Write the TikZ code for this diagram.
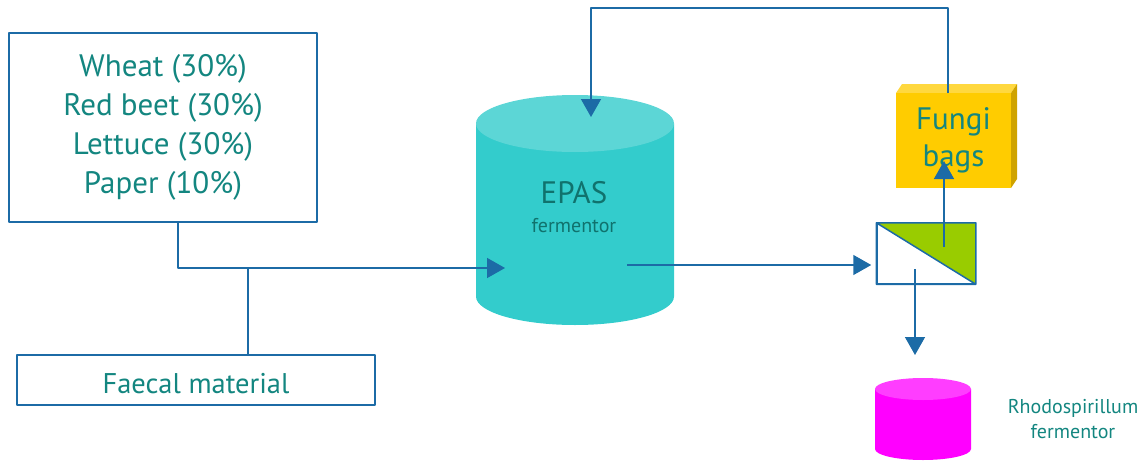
\documentclass[tikz,border=0pt]{standalone}
\usepackage{fontspec}
\setmainfont{PT Sans}
\usetikzlibrary{arrows.meta}
\definecolor{flowline}{HTML}{1C6BA6}
\definecolor{txtteal}{HTML}{138680}
\definecolor{epasbody}{HTML}{33CCCC}
\definecolor{epastop}{HTML}{5CD6D6}
\definecolor{fungifront}{HTML}{FFCC00}
\definecolor{fungitop}{HTML}{FFD83F}
\definecolor{fungiside}{HTML}{CFA300}
\definecolor{membrane}{HTML}{99CC00}
\definecolor{rhodobody}{HTML}{FF00FF}
\definecolor{rhodotop}{HTML}{FF3DFF}
\tikzset{
  feedbox/.style={draw=flowline, line width=1.3pt, fill=white, inner sep=0pt},
  flow/.style={draw=flowline, line width=1.5pt},
  lbl/.style={text=txtteal, align=center, inner sep=0pt},
}
\begin{document}
\begin{tikzpicture}[x=1pt, y=-1pt, >={Triangle[length=18pt,width=20pt]}, line join=round]
\useasboundingbox (0,0) rectangle (1144,461);
\def\epasrx{99pt} \def\epasry{28.5pt} % tank radii
\def\rhodorx{48pt} \def\rhodory{11pt}

% feed and faecal boxes
\node[feedbox, lbl, minimum width=308pt, minimum height=189pt,
  font=\fontsize{31}{39}\selectfont] (feed) at (163,127.5)
  {Wheat (30\%)\\Red beet (30\%)\\Lettuce (30\%)\\Paper (10\%)};
\node[feedbox, minimum width=358pt, minimum height=50pt] (faecal) at (196,380) {};
\node[lbl, font=\fontsize{28.5}{34}\selectfont] (faecallbl) at (196,384) {Faecal material};

% EPAS tank
\fill[epasbody] (476,123.5) -- (476,296.5)
  arc[start angle=180, end angle=360, x radius=\epasrx, y radius=\epasry]
  -- (674,123.5) -- cycle;
\fill[epastop] (575,123.5) ellipse[x radius=\epasrx, y radius=\epasry];
\node[lbl, font=\fontsize{31}{36}\selectfont, text=txtteal!85!black] (epas) at (574,193) {EPAS};
\node[lbl, font=\fontsize{20}{24}\selectfont, text=txtteal!85!black] (epassub) at (574,226) {fermentor};
\coordinate (epasin) at (505,268);
\coordinate (epasout) at (627,265);
\coordinate (epasfeed) at (591,117);

% separator
\node[draw=flowline, line width=1.5pt, minimum width=98pt, minimum height=60pt,
  inner sep=0pt] (sep) at (926,253.5) {};
\fill[membrane] (sep.north west) -- (sep.north east) -- (sep.south east) -- cycle;
\draw[flowline, line width=1.5pt] (sep.north west) rectangle (sep.south east)
  (sep.north west) -- (sep.south east);
\coordinate (sepup) at (944,247);
\coordinate (sepdown) at (915,269);

% fungi bags
\fill[fungitop] (896,93) -- ++(6,-9) -- ++(115,0) -- (1011,93) -- cycle;
\fill[fungiside] (1011,93) -- (1017,84) -- (1017,179) -- (1011,188) -- cycle;
\node[fill=fungifront, lbl, minimum width=115pt, minimum height=95pt,
  font=\fontsize{31}{37}\selectfont] (fungi) at (953.5,140.5) {Fungi\\bags};
\coordinate (fungiin) at (944,161);
\coordinate (fungiout) at (948,93);

% Rhodospirillum tank
\fill[rhodobody] (875,389) -- (875,449)
  arc[start angle=180, end angle=360, x radius=\rhodorx, y radius=\rhodory]
  -- (971,389) -- cycle;
\fill[rhodotop] (923,389) ellipse[x radius=\rhodorx, y radius=\rhodory];
\node[lbl, font=\fontsize{20}{25}\selectfont] (rhodo) at (1073,419.5)
  {Rhodospirillum\\fermentor};
\coordinate (rhodoin) at (915,355);

% flows
\draw[flow, ->] ([xshift=15pt]feed.south) |- (epasin);
\draw[flow] ([xshift=52pt]faecal.north) -- ++(0,-87);
\draw[flow, ->, shorten >=5pt] (epasout) -- (sep.west |- epasout);
\draw[flow, ->] (sepup) -- (fungiin);
\draw[flow, ->] (sepdown) -- (rhodoin);
\draw[flow, ->] (fungiout) -- ++(0,-85) -| (epasfeed);
\end{tikzpicture}
\end{document}
